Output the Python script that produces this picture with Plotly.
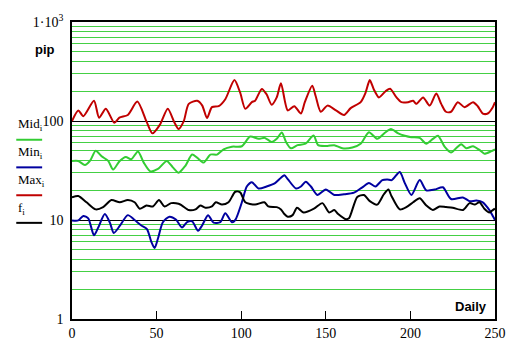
import plotly.graph_objects as go

# ---- data ----
max_t = [0,3.7,6.7,13,16,20,25,28,33,38.6,44,47.5,52,56.6,60.6,63,66,69,74,77,79.8,82.7,86.7,90.6,96,99.4,102.4,106.3,108.2,112.2,115,118,121,123.5,127.5,131.4,135.3,137.6,142,144,147,151,156,160.8,164.7,170.6,173.5,176,178.4,181.4,185.3,188,191.8,194.7,198.6,201.6,203.5,207.5,211.4,215.3,218.2,221,224,228,232,237,239.8,242.8,245.7,248.7,250]
max_v = [100,128,112,160,108,133,96,108,115,157,99,75,92,133,96,83,99,149,160,143,107,138,141,166,259,193,133,155,160,211,186,146,173,240,128,141,119,155,227,179,124,143,128,115,135,155,193,259,208,173,200,212,173,155,155,160,149,173,143,190,149,124,124,155,138,155,141,119,119,138,155]

mid_t = [0,3.7,7.6,10.6,14,17.5,21.4,24.3,28.2,31.8,35,39,42.4,46.3,50.8,56,59.6,63,67,71,74,77.8,81.8,85.7,89.6,94.5,100.4,105.3,110.2,114,118,121,124,126.5,129.4,133.3,138,142.8,145.5,151,155,159.8,165.7,170.6,175.5,180.4,185.3,188.5,192.8,196.7,200.6,205.5,209.4,213.3,216.3,220.2,224,227,230,233,237,240.8,243.7,247.6,250]
mid_v = [39.5,39.5,35.9,39.5,50,44,39.5,32.3,39.5,43.4,41,49.3,38,31,32.8,39.5,34,30,35.3,45.8,42.5,38,45.8,45.8,51.8,55,55.6,69.7,66,67.5,61.4,66,76.7,61.4,53,57,59,71.3,57,56,57,53,54,59,77,66,77,83,75,71,68.6,67.5,59,66,71,55,48,53,58.4,53,55.6,51,46.8,49.3,51.8]

f_t = [0,3.7,8.6,14,18.4,23.3,28.2,33,37,40,44,47.8,51.4,54.7,58.6,63,65,69,73,75.9,78.8,82.7,85,88.6,92.5,96.5,99.4,102.4,108.2,113.7,116,121,123.5,125.5,127.5,130.4,133,136.9,143,148,152,155,157.3,161.8,163.7,168.6,172.5,176,180.4,184.3,187,188.8,193.7,197.6,201.6,205.5,209.4,213.3,217.2,221,225,231,235,238,240.8,243.7,246.7,248.7,250]
f_v = [16.9,17.5,15.1,12.8,13.5,15.9,15.1,15.9,15.1,13,14,13.7,15.9,13.7,14.8,14.6,14,12.6,12.8,14,13.3,13.7,15.1,14.3,15.1,19.3,19,15.1,14.3,15.1,13.7,13.5,12.8,11.5,10.8,11.2,13.3,11.9,13,14.8,11.9,12.6,11.5,10.2,10.4,17.1,17.9,15.5,14.3,18.2,20.3,17.5,12.8,13.5,15.1,16.6,14,12.6,13.7,13.5,13.3,12.6,14.8,14.3,15.1,13,11.9,12.6,13]

min_t = [0,3.7,6.7,9.6,13,15.5,19.4,22.4,24.7,28.2,33,37,41,44.3,46.9,48.8,50.8,53.7,57.6,61.4,65,68,71,74.5,76.9,80.4,83.7,87.6,90.6,94.5,96.5,100.4,103.3,106.3,110.2,115,120,123.5,125.5,127.5,132.4,135.3,138.2,141.2,145,150,155,160.8,166.7,171.6,175.5,179.4,183.4,186.3,189,193.7,196.7,200.6,205.5,209.4,214.3,219.2,224,231,235,239,242.8,246.7,248.7,250]
min_v = [9.9,9.9,11,10.4,7,8.4,11.5,9.4,7.4,8.7,11.2,10,8.8,8.1,6,5.2,6.5,9.5,10.8,10.1,8.4,9.5,9.7,7.8,8.8,11.2,9.4,9.5,11.7,9.5,10,15.1,21.8,24.1,20.8,21.8,23.6,26.7,28.3,25.9,20.8,21.8,24.4,21.8,17.9,20.3,17.9,18.2,18.9,21.4,23.6,21.8,25.3,25.6,25.3,30.5,23.6,17.9,25.3,19.9,20.3,21.4,16.3,16.9,15.5,15.7,15.1,12.6,11,10]

x_ticks = [0, 50, 100, 150, 200, 250]
y_major = [1, 10, 100, 1000]
y_major_text = ["1", "10", "100", "1\u00b710<sup>3</sup>"]
y_minor = [m * d for d in (1, 10, 100) for m in range(2, 10)]

legend_labels = ["Mid<sub>i</sub>", "Min<sub>i</sub>", "Max<sub>i</sub>", "f<sub>i</sub>"]

C_MID = "#33cc33"
C_MIN = "#0000a0"
C_MAX = "#c00000"
C_F = "#000000"
C_GRID = "#44d044"

fig = go.Figure()
for t, v, c in [(max_t, max_v, C_MAX), (mid_t, mid_v, C_MID),
                (min_t, min_v, C_MIN), (f_t, f_v, C_F)]:
    fig.add_trace(go.Scatter(x=t, y=v, mode="lines",
                             line=dict(color=c, width=2, shape="spline", smoothing=0.7),
                             showlegend=False, hoverinfo="skip"))

serif = "Liberation Serif, Times New Roman, serif"
fig.update_layout(
    width=518, height=353,
    margin=dict(l=72, r=21, t=14, b=27),
    paper_bgcolor="white", plot_bgcolor="white",
    xaxis=dict(range=[0, 250], tickvals=x_ticks, ticks="inside", ticklen=8,
               tickcolor="black", tickwidth=1, showgrid=False, zeroline=False,
               showline=True, linecolor="black", linewidth=1.5, mirror=True,
               tickfont=dict(family=serif, size=14, color="black")),
    yaxis=dict(type="log", range=[0, 3], tickvals=y_major, ticktext=y_major_text,
               ticks="", showgrid=True, gridcolor="black", gridwidth=1,
               zeroline=False, showline=True, linecolor="black", linewidth=1.5,
               mirror=True, ticklabelstandoff=4,
               tickfont=dict(family=serif, size=14, color="black"),
               minor=dict(tickvals=y_minor, showgrid=True, gridcolor=C_GRID,
                          gridwidth=1.2, ticks="")),
)

fig.add_annotation(x=(45 - 72) / 425, y=(326 - 43) / 312, xref="paper", yref="paper",
                   text="<b>pip</b>", xanchor="center", yanchor="middle", showarrow=False,
                   font=dict(family="Liberation Sans", size=13, color="black"))
fig.add_annotation(x=(491 - 72) / 425, y=(326 - 313) / 312, xref="paper", yref="paper",
                   text="<b>Daily</b>", xanchor="right", yanchor="middle", showarrow=False,
                   font=dict(family="Liberation Sans", size=13, color="black"))

# custom legend at left
label_y_px = [122, 151, 181, 210]
line_y_px = [137.7, 166.7, 196, 225]
colors = [C_MID, C_MIN, C_MAX, C_F]
for lab, ly, ln, c in zip(legend_labels, label_y_px, line_y_px, colors):
    fig.add_annotation(x=(16 - 72) / 425, y=(326 - ly) / 312, xref="paper", yref="paper",
                       text=lab, xanchor="left", yanchor="middle", showarrow=False,
                       font=dict(family=serif, size=13, color="black"))
    fig.add_shape(type="line", xref="paper", yref="paper",
                  x0=(16 - 72) / 425, x1=(42 - 72) / 425,
                  y0=(326 - ln) / 312, y1=(326 - ln) / 312,
                  line=dict(color=c, width=2))

fig.write_html("out.html")
